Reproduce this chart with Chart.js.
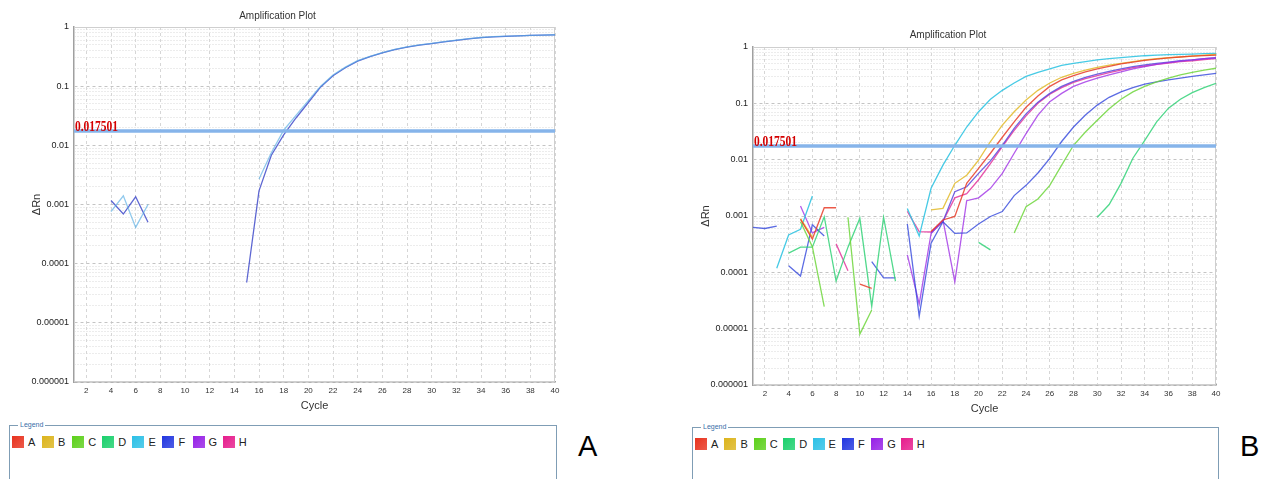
<!DOCTYPE html>
<html>
<head>
<meta charset="utf-8">
<script src="https://cdn.jsdelivr.net/npm/chart.js@4.4.1/dist/chart.umd.min.js"></script>
<style>
  body { margin: 0; background: #fff; width: 1276px; height: 479px; overflow: hidden; position: relative;
         font-family: "Liberation Sans", Arial, sans-serif; }
  canvas { position: absolute; }
  .legend { position: absolute; border: 1.5px solid #7f9db5; border-bottom: none; height: 70px; }
  .legend .cap { position: absolute; top: -5px; left: 8px; background: #fff; font-size: 7px; line-height: 8px;
                 color: #3a6ea8; padding: 0 2px; }
  .legend .items { position: absolute; top: 10px; left: 2px; display: flex; }
  .legend .item { display: flex; align-items: center; font-size: 11px; color: #222; }
  .legend .sw { width: 12px; height: 12px; margin-right: 4px; }
  .tag { position: absolute; font-size: 29px; color: #000; }
</style>
</head>
<body>
<canvas id="chartA" width="570" height="420" style="left:0;top:0"></canvas>
<canvas id="chartB" width="552" height="423" style="left:680px;top:0"></canvas>
<div class="legend" id="legendA" style="left:9px;top:425px;width:546px"></div>
<div class="legend" id="legendB" style="left:692px;top:427px;width:525px"></div>
<div class="tag" style="left:578px;top:430px">A</div>
<div class="tag" style="left:1240px;top:430px">B</div>
<script>
const _ = null;

// cycles 1..40 and tick values
const cycles = [];
for (let i = 1; i <= 40; i++) cycles.push(i);
const xTicks = [2,4,6,8,10,12,14,16,18,20,22,24,26,28,30,32,34,36,38,40];
const yDecades = [0.000001, 0.00001, 0.0001, 0.001, 0.01, 0.1, 1];
const yDecadeLabels = ["0.000001", "0.00001", "0.0001", "0.001", "0.01", "0.1", "1"];
const thresholdValue = 0.017501;

// legend
const wellNames = ["A", "B", "C", "D", "E", "F", "G", "H"];
const wellColors = ["#e8321e", "#dcb41c", "#5cd01a", "#1ad06c", "#2cc0e6", "#2236e0", "#9620e6", "#e61c8c"];

// panel A: delta Rn per cycle
const aE = [_,_,_,0.00076,0.0014,0.00041,0.001,_,_,_,
            _,_,_,_,_,0.0027,0.0075,0.018,0.032,0.057,
            0.1,0.155,0.21,0.27,0.32,0.37,0.42,0.46,0.5,0.53,
            0.565,0.6,0.635,0.665,0.685,0.7,0.71,0.72,0.73,0.74];
const aF = [_,_,_,0.00117,0.00069,0.00135,0.0005,_,_,_,
            _,_,_,_,0.000048,0.0017,0.0068,0.015,0.029,0.053,
            0.097,0.15,0.205,0.265,0.315,0.365,0.415,0.455,0.495,0.525,
            0.56,0.595,0.63,0.66,0.68,0.695,0.71,0.72,0.73,0.735];

// panel B
const bA = [_,_,_,_,0.00087,0.00039,0.0014,0.0014,_,0.000062,
            0.000052,_,_,_,_,0.00053,0.00085,0.00098,0.0038,0.007,
            0.013,0.025,0.047,0.085,0.135,0.2,0.26,0.31,0.36,0.41,
            0.455,0.5,0.54,0.58,0.61,0.64,0.665,0.69,0.705,0.72];
const bB = [_,_,_,_,0.0009,0.00042,_,_,_,_,
            _,_,_,_,_,0.00128,0.00137,0.0038,0.0053,0.0098,
            0.021,0.041,0.071,0.115,0.17,0.23,0.29,0.34,0.39,0.435,
            0.475,0.51,0.55,0.59,0.62,0.645,0.67,0.69,0.715,0.74];
const bC = [_,_,_,_,0.00079,0.000285,0.0000245,_,0.00095,0.000008,
            0.0000214,_,_,_,_,_,_,_,_,_,
            _,_,0.0005,0.00146,0.002,0.0035,0.008,0.018,0.031,0.05,
            0.08,0.118,0.16,0.2,0.24,0.28,0.32,0.355,0.39,0.42];
const bD = [_,_,_,0.00022,0.00028,0.00028,0.00097,0.00007,0.00028,0.00091,
            0.000025,0.00095,0.00007,_,_,_,_,_,_,0.00034,
            0.00025,_,_,_,_,_,_,_,_,0.00095,
            0.0016,0.0038,0.0106,0.022,0.047,0.082,0.118,0.155,0.19,0.226];
const bE = [_,_,0.000118,0.00046,0.00058,0.00226,_,_,_,_,
            _,_,_,0.00136,0.00044,0.0031,0.008,0.018,0.038,0.071,
            0.118,0.17,0.23,0.3,0.355,0.41,0.47,0.51,0.55,0.59,
            0.62,0.65,0.675,0.7,0.715,0.73,0.74,0.75,0.76,0.77];
const bF1 = [0.00063,0.0006,0.00066,_,_,_,_,_,_,_,
             0.000155,0.00008,0.00008,_,_,_,_,_,_,_,
             _,_,_,_,_,_,_,_,_,_,
             _,_,_,_,_,_,_,_,_,_];
const bF2 = [_,_,_,0.000131,0.000086,0.0007,0.00044,_,_,_,
             _,_,_,0.00072,0.0000167,0.00033,0.00079,0.00049,0.0005,0.00072,
             0.00098,0.0012,0.0023,0.0035,0.0058,0.0105,0.021,0.038,0.062,0.093,
             0.128,0.16,0.19,0.22,0.24,0.26,0.28,0.3,0.32,0.34];
const bG1 = [_,_,_,_,0.0015,0.0005,0.00063,_,_,_,
             _,_,_,0.000204,0.0000275,0.00049,0.00085,0.000068,0.00187,0.0021,
             0.0031,0.0057,0.013,0.029,0.062,0.107,0.15,0.2,0.24,0.28,
             0.32,0.36,0.41,0.45,0.49,0.53,0.56,0.59,0.62,0.64];
const bG2 = [_,_,_,_,_,_,_,_,_,_,
             _,_,_,_,_,0.0005,0.0008,0.0027,0.0033,0.0057,
             0.0095,0.018,0.036,0.065,0.105,0.15,0.2,0.245,0.29,0.33,
             0.37,0.41,0.45,0.48,0.51,0.54,0.57,0.59,0.62,0.645];
const bH = [_,_,_,_,_,_,_,0.00032,0.000107,_,
            _,_,_,0.0012,0.00053,0.00052,0.0008,0.0021,0.0025,0.0044,
            0.0085,0.017,0.033,0.06,0.1,0.145,0.19,0.235,0.275,0.31,
            0.35,0.39,0.43,0.46,0.49,0.52,0.55,0.57,0.6,0.62];

// minor log ticks 2..9 of each decade
const yMinor = [];
for (let d = 0; d < 6; d++) {
  for (let m = 2; m <= 9; m++) yMinor.push(yDecades[d] * m);
}

const fontFam = '"Liberation Sans", Arial, sans-serif';

// red threshold value + light frame round the plot
const plotExtras = {
  id: 'plotExtras',
  beforeDatasetsDraw(chart) {
    const {ctx, chartArea} = chart;
    ctx.save();
    ctx.strokeStyle = '#cfcfcf';
    ctx.lineWidth = 1;
    ctx.strokeRect(chartArea.left + 0.5, chartArea.top + 0.5, chartArea.width - 1, chartArea.height - 1);
    ctx.restore();
  },
  afterDatasetsDraw(chart) {
    const {ctx, chartArea, scales} = chart;
    const y = scales.y.getPixelForValue(thresholdValue);
    ctx.save();
    ctx.font = 'bold 14px "Liberation Serif", serif';
    ctx.fillStyle = '#d40000';
    ctx.translate(chartArea.left + 1, y);
    ctx.scale(0.82, 1);
    ctx.fillText(String(thresholdValue), 0, 0);
    ctx.restore();
  }
};

function lineSet(label, data, color) {
  return { label: label, data: data, borderColor: color, borderWidth: 1.3,
           pointRadius: 0, tension: 0, spanGaps: false, fill: false };
}

function isDecade(c) {
  return yDecades.some(d => c.tick && Math.abs(d - c.tick.value) / d < 1e-6);
}

function makeChart(id, sets, geo) {
  const threshold = {
    label: 'Threshold', data: cycles.map(() => thresholdValue), borderColor: '#86b4ea',
    borderWidth: 3.5, pointRadius: 0, fill: false
  };
  new Chart(document.getElementById(id), {
    type: 'line',
    data: { labels: cycles, datasets: [threshold].concat(sets) },
    plugins: [plotExtras],
    options: {
      responsive: false,
      animation: false,
      layout: { padding: { left: 0, right: geo.right, top: 0, bottom: 0 } },
      plugins: {
        legend: { display: false },
        tooltip: { enabled: false },
        title: { display: true, text: 'Amplification Plot', color: '#333',
                 font: { size: 10, family: fontFam, weight: 'normal' },
                 padding: { top: geo.titleTop, bottom: geo.titleBottom } }
      },
      scales: {
        x: {
          type: 'linear', min: 1, max: 40,
          afterBuildTicks: (s) => { s.ticks = xTicks.map(v => ({ value: v })); },
          afterFit: (s) => { s.height = 38; },
          ticks: { font: { size: 8, family: fontFam }, color: '#333', padding: 4, maxRotation: 0, autoSkip: false },
          grid: { color: '#d6d6d6', drawTicks: false },
          border: { color: '#a0a0a0', width: 1.5, dash: [3, 3] },
          title: { display: true, text: 'Cycle', color: '#333', font: { size: 11, family: fontFam },
                   padding: { top: 0, bottom: 7 } }
        },
        y: {
          type: 'logarithmic', min: 0.000001, max: 1,
          afterBuildTicks: (s) => {
            s.ticks = yDecades.concat(yMinor).sort((p, q) => p - q).map(v => ({ value: v }));
          },
          afterFit: (s) => { s.width = geo.yWidth; },
          ticks: {
            autoSkip: false, font: { size: 9, family: fontFam }, color: '#222', padding: 5,
            callback: (v) => {
              const k = yDecades.findIndex(d => Math.abs(d - v) / d < 1e-6);
              return k >= 0 ? yDecadeLabels[k] : '';
            }
          },
          grid: { drawTicks: false, color: (c) => isDecade(c) ? '#c4c4c4' : '#d9d9d9' },
          border: { color: '#a0a0a0', width: 1.5, dash: (c) => isDecade(c) ? [3, 3] : [1, 2] },
          title: { display: true, text: '\u0394Rn', color: '#333', font: { size: 11, family: fontFam },
                   padding: { top: geo.yTitle, bottom: 0 } }
        }
      }
    }
  });
}

makeChart('chartA', [
  lineSet('E', aE, 'rgba(85,172,228,0.65)'),
  lineSet('F', aF, 'rgba(75,85,205,0.9)')
], { right: 15, titleTop: 10, titleBottom: 5, yWidth: 74, yTitle: 30 });

makeChart('chartB', [
  lineSet('A', bA, 'rgba(232,60,40,0.85)'),
  lineSet('B', bB, 'rgba(226,186,40,0.85)'),
  lineSet('C', bC, 'rgba(110,214,60,0.85)'),
  lineSet('D', bD, 'rgba(50,210,120,0.85)'),
  lineSet('E', bE, 'rgba(50,196,226,0.9)'),
  lineSet('F', bF1, 'rgba(50,70,220,0.8)'),
  lineSet('F', bF2, 'rgba(50,70,220,0.8)'),
  lineSet('G', bG1, 'rgba(160,50,230,0.8)'),
  lineSet('G', bG2, 'rgba(90,70,220,0.85)'),
  lineSet('H', bH, 'rgba(225,40,150,0.8)')
], { right: 16, titleTop: 29, titleBottom: 6, yWidth: 73, yTitle: 19 });

// legend boxes
function makeLegend(id, step) {
  const box = document.getElementById(id);
  const cap = document.createElement('div');
  cap.className = 'cap';
  cap.textContent = 'Legend';
  box.appendChild(cap);
  const row = document.createElement('div');
  row.className = 'items';
  for (let i = 0; i < wellNames.length; i++) {
    const it = document.createElement('div');
    it.className = 'item';
    it.style.width = step + 'px';
    const sw = document.createElement('div');
    sw.className = 'sw';
    sw.style.background = 'linear-gradient(135deg, ' + wellColors[i] + ', ' + wellColors[i] + 'cc)';
    it.appendChild(sw);
    const t = document.createElement('span');
    t.textContent = wellNames[i];
    it.appendChild(t);
    row.appendChild(it);
  }
  box.appendChild(row);
}
makeLegend('legendA', 30.1);
makeLegend('legendB', 29.4);
</script>
</body>
</html>
